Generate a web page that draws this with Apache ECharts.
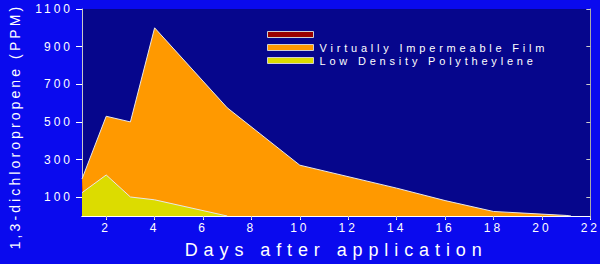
<!DOCTYPE html>
<html><head><meta charset="utf-8">
<script src="https://cdn.jsdelivr.net/npm/echarts@6/dist/echarts.min.js"></script>
<style>html,body{margin:0;padding:0;background:#0a0aee;}#c{width:600px;height:264px;}</style>
</head><body><div id="c"></div>
<script>
const seriesNames = [' ', 'Virtually Impermeable Film', 'Low Density Polytheylene'];
const redData = [[1, 200], [1.08, 0]];
const vifData = [[1, 197], [2, 530], [3, 500], [4, 1000], [7, 575], [10, 270], [14, 148], [16, 82], [18, 24], [20, 10], [21, 3], [21.2, 0]];
const ldpeData = [[1, 124], [2, 218], [3, 101], [4, 86], [7, 0]];
const xTicks = [2, 4, 6, 8, 10, 12, 14, 16, 18, 20, 22];
const yTicks = [100, 300, 500, 700, 900, 1100];
const xName = 'Days after application';
const yName = '1,3-dichloropropene (PPM)';

const chart = echarts.init(document.getElementById('c'), null, {renderer: 'svg'});
const tickFont = {color: '#fff', fontFamily: 'Liberation Sans', fontSize: 12, formatter: v => String(v)};
chart.setOption({
  animation: false,
  backgroundColor: '#0a0aee',
  grid: {left: 81, right: 8, top: 9, bottom: 48, show: true, backgroundColor: '#06068c', borderWidth: 0},
  legend: {
    orient: 'vertical', left: 262, top: 24, itemWidth: 46, itemHeight: 6, itemGap: 2,
    data: seriesNames,
    icon: 'rect',
    itemStyle: {borderColor: '#d0d0d0', borderWidth: 1},
    textStyle: {color: '#fff', fontFamily: 'Liberation Sans', fontSize: 11, padding: [0, 0, 0, 1]}
  },
  xAxis: [{
    type: 'value', min: 1, max: 22, position: 'bottom',
    name: xName, nameLocation: 'middle', nameGap: 25,
    nameTextStyle: {color: '#fff', fontFamily: 'Liberation Sans', fontSize: 18},
    axisLine: {show: true, lineStyle: {color: '#fff', width: 1}},
    axisTick: {show: true, length: 4, lineStyle: {color: '#fff'}, customValues: xTicks},
    axisLabel: Object.assign({margin: 6, customValues: xTicks}, tickFont),
    splitLine: {show: false}
  }, {
    type: 'value', min: 1, max: 22, position: 'top',
    axisLine: {show: true, lineStyle: {color: '#fff', width: 1}},
    axisTick: {show: true, inside: true, length: 3, lineStyle: {color: '#ccc'}, customValues: xTicks},
    axisLabel: {show: false}, splitLine: {show: false}
  }],
  yAxis: [{
    type: 'value', min: 0, max: 1100, position: 'left',
    name: yName, nameLocation: 'middle', nameGap: 60,
    nameTextStyle: {color: '#fff', fontFamily: 'Liberation Sans', fontSize: 14, padding: [0, 28, 0, 0]},
    axisLine: {show: true, lineStyle: {color: '#c8c8c8', width: 1}},
    axisTick: {show: true, length: 6, lineStyle: {color: '#fff'}, customValues: yTicks},
    axisLabel: Object.assign({margin: 9, customValues: yTicks}, tickFont),
    splitLine: {show: false}
  }, {
    type: 'value', min: 0, max: 1100, position: 'right',
    axisLine: {show: true, lineStyle: {color: '#a8a8a8', width: 1}},
    axisTick: {show: true, inside: true, length: 4, lineStyle: {color: '#ccc'}, customValues: yTicks},
    axisLabel: {show: false}, splitLine: {show: false}
  }],
  series: [
    {name: seriesNames[1], type: 'line', data: vifData, symbol: 'none', z: 2,
     color: '#ff9900', lineStyle: {color: '#e8e8e8', width: 1}, areaStyle: {color: '#ff9900', opacity: 1}},
    {name: seriesNames[0], type: 'line', data: redData, symbol: 'none', z: 3,
     color: '#990000', lineStyle: {width: 0}, areaStyle: {color: '#c03010', opacity: 1}},
    {name: seriesNames[2], type: 'line', data: ldpeData, symbol: 'none', z: 4,
     color: '#dcdc00', lineStyle: {color: '#e8e8e8', width: 1}, areaStyle: {color: '#dcdc00', opacity: 1}}
  ]
});
function spacing() {
  document.querySelectorAll('#c text').forEach(t => {
    const s = t.textContent;
    let ls = 0;
    if (s === xName) ls = 5.9;
    else if (s === yName) ls = 3.1;
    else if (seriesNames.includes(s)) ls = 3.8;
    else if (/^\d+$/.test(s)) ls = 3;
    t.style.letterSpacing = ls + 'px';
  });
}
spacing();
chart.on('finished', spacing);
</script></body></html>
